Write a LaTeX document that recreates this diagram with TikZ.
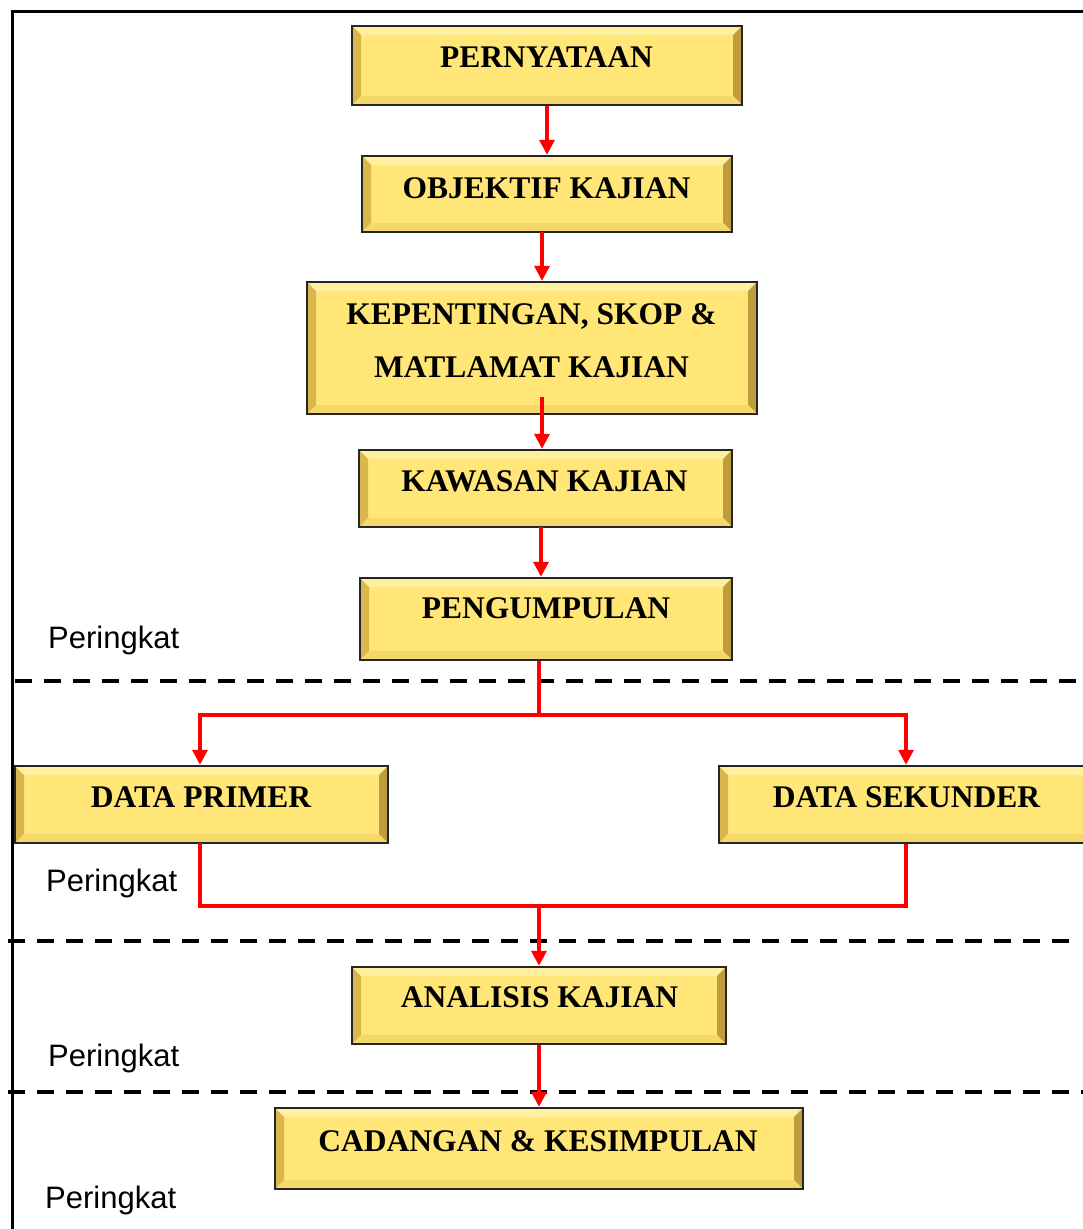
\documentclass[tikz,border=0pt]{standalone}
\usepackage{fontspec}
\setmainfont{Liberation Serif}
\newfontfamily\arialf{Liberation Sans}
\usetikzlibrary{arrows.meta,calc}
\definecolor{boxface}{HTML}{FFE676}
\definecolor{bevtop}{HTML}{FFF0A0}
\definecolor{bevleft}{HTML}{D9B64E}
\definecolor{bevright}{HTML}{BF9C3C}
\definecolor{bevbot}{HTML}{F5D86A}
\definecolor{redl}{HTML}{FF0000}
\begin{document}
\begin{tikzpicture}[x=1pt,y=1pt,
  bevelbox/.style={rectangle, draw=black!85, line width=2.4pt, fill=boxface, inner sep=0pt,
    path picture={
      \coordinate (pnw) at (path picture bounding box.north west);
      \coordinate (pne) at (path picture bounding box.north east);
      \coordinate (psw) at (path picture bounding box.south west);
      \coordinate (pse) at (path picture bounding box.south east);
      \fill[bevtop] (pnw) -- (pne) -- ($(pne)+(-9,-9)$) -- ($(pnw)+(9,-9)$) -- cycle;
      \fill[bevleft] (pnw) -- (psw) -- ($(psw)+(9,9)$) -- ($(pnw)+(9,-9)$) -- cycle;
      \fill[bevright] (pne) -- (pse) -- ($(pse)+(-9,9)$) -- ($(pne)+(-9,-9)$) -- cycle;
      \fill[bevbot] (psw) -- (pse) -- ($(pse)+(-9,9)$) -- ($(psw)+(9,9)$) -- cycle;
    }},
  boxtext/.style={anchor=base, inner sep=0pt, font=\fontsize{31.5}{36}\selectfont\bfseries},
  lvl/.style={anchor=base west, inner sep=0pt, font=\arialf\fontsize{31}{36}\selectfont},
  redline/.style={draw=redl, line width=3.4pt},
  arr/.style={redline, -{Triangle[length=15pt,width=15pt]}},
  sep/.style={draw=black, line width=3.2pt, dash pattern=on 17pt off 12pt}
]
\useasboundingbox (0,0) rectangle (1083,-1229);

% frame
\draw[black, line width=3pt] (12,-1229) -- (12,-11) -- (1083,-11);

% separators
\draw[sep] (15,-681) -- (1083,-681);
\draw[sep] (8,-941) -- (1075,-941);
\draw[sep] (8,-1092) -- (1083,-1092);

% boxes
\node[bevelbox, minimum width=390pt, minimum height=79pt] (b1) at (547,-65.5) {};
\node[bevelbox, minimum width=370pt, minimum height=76pt] (b2) at (547,-194) {};
\node[bevelbox, minimum width=450pt, minimum height=132pt] (b3) at (532,-348) {};
\node[bevelbox, minimum width=373pt, minimum height=77pt] (b4) at (545.5,-488.5) {};
\node[bevelbox, minimum width=372pt, minimum height=82pt] (b5) at (546,-619) {};
\node[bevelbox, minimum width=373pt, minimum height=77pt] (b6) at (201.5,-804.5) {};
\node[bevelbox, minimum width=374pt, minimum height=77pt] (b7) at (906,-804.5) {};
\node[bevelbox, minimum width=374pt, minimum height=77pt] (b8) at (539,-1005.5) {};
\node[bevelbox, minimum width=528pt, minimum height=81pt] (b9) at (539,-1148.5) {};

% box texts
\node[boxtext] (t1) at (546.5,-67) {PERNYATAAN};
\node[boxtext] (t2) at (546.5,-198) {OBJEKTIF KAJIAN};
\node[boxtext] (t3a) at (531.5,-324) {KEPENTINGAN, SKOP \&};
\node[boxtext] (t3b) at (531.5,-377) {MATLAMAT KAJIAN};
\node[boxtext] (t4) at (544.5,-491) {KAWASAN KAJIAN};
\node[boxtext] (t5) at (546,-618) {PENGUMPULAN};
\node[boxtext] (t6) at (201,-807) {DATA PRIMER};
\node[boxtext] (t7) at (906.5,-807) {DATA SEKUNDER};
\node[boxtext] (t8) at (539.5,-1007) {ANALISIS KAJIAN};
\node[boxtext] (t9) at (538,-1151) {CADANGAN \& KESIMPULAN};

% level labels
\node[lvl] (p1) at (48,-648) {Peringkat};
\node[lvl] (p2) at (46,-891) {Peringkat};
\node[lvl] (p3) at (48,-1066) {Peringkat};
\node[lvl] (p4) at (45,-1208) {Peringkat};

% connector coordinates
\coordinate (a2) at (542,-232);
\coordinate (a3) at (542,-397);
\coordinate (a4) at (541,-527);
\coordinate (j1) at (539,-715);
\coordinate (j2) at (539,-906);
\coordinate (c6) at (200,-843);

% connectors
\draw[arr] (b1.south) -- (b2.north);
\draw[arr] (a2) -- (a2 |- b3.north);
\draw[arr] (a3) -- (a3 |- b4.north);
\draw[arr] (a4) -- (a4 |- b5.north);
\draw[redline] (b5.south -| j1) -- (j1);
\draw[arr] (j1) -| (c6 |- b6.north);
\draw[arr] (j1) -| (b7.north);
\draw[redline] (c6) |- (j2) -| (b7.south);
\draw[arr] (j2) -- (b8.north);
\draw[arr] (b8.south) -- (b9.north);
\end{tikzpicture}
\end{document}
